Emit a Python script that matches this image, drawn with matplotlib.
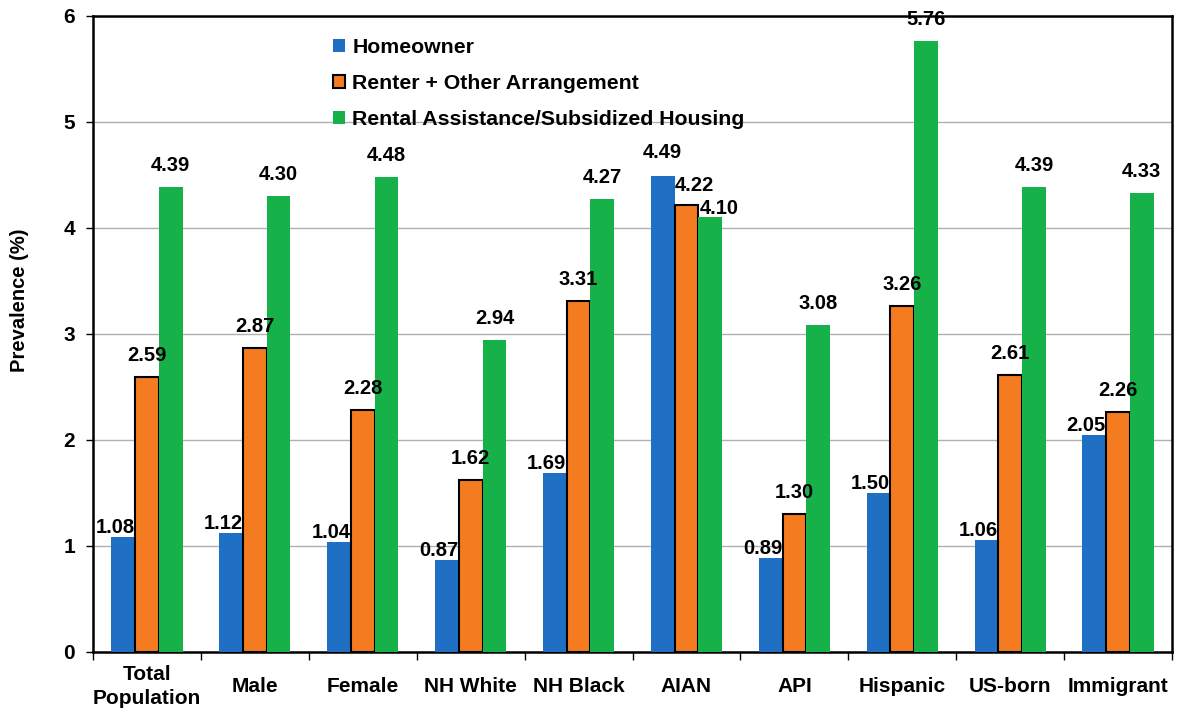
import numpy as np
import matplotlib.pyplot as plt

# groups and values
groups = ["Total\nPopulation", "Male", "Female", "NH White", "NH Black",
          "AIAN", "API", "Hispanic", "US-born", "Immigrant"]
homeowner = [1.08, 1.12, 1.04, 0.87, 1.69, 4.49, 0.89, 1.50, 1.06, 2.05]
renter = [2.59, 2.87, 2.28, 1.62, 3.31, 4.22, 1.30, 3.26, 2.61, 2.26]
assisted = [4.39, 4.30, 4.48, 2.94, 4.27, 4.10, 3.08, 5.76, 4.39, 4.33]
series_names = ["Homeowner", "Renter + Other Arrangement",
                "Rental Assistance/Subsidized Housing"]

plt.rcParams['font.family'] = ['Liberation Sans', 'DejaVu Sans']
plt.rcParams['font.weight'] = 'bold'

fig = plt.figure(figsize=(11.77, 7.13), dpi=100)
ax = fig.add_axes([0.079, 0.0856, 0.9168, 0.892])

x = np.arange(len(groups))
w = 0.22
colors = ['#1f6fc4', '#f47b20', '#17b14a']
edges = ['none', 'black', 'none']
all_vals = [homeowner, renter, assisted]

# label offsets in pixels (dx, dy) per series, a few moved by hand in the original
base_off = [(-8, 0), (0, 12), (0, 12)]
special = {(5, 0): (0, 14), (5, 1): (8, 10), (5, 2): (9, -1)}

for s, vals in enumerate(all_vals):
    pos = x + (s - 1) * w
    ax.bar(pos, vals, width=w, color=colors[s], edgecolor=edges[s],
           linewidth=1.5 if s == 1 else 0, label=series_names[s], zorder=3)
    for i, v in enumerate(vals):
        dx, dy = special.get((i, s), base_off[s])
        ax.annotate(f"{v:.2f}", (pos[i], v), xytext=(dx, dy),
                    textcoords='offset pixels', ha='center', va='bottom',
                    fontsize=14.5, fontweight='bold', zorder=4)

ax.set_ylim(0, 6)
ax.set_xlim(-0.5, len(groups) - 0.5)
ax.set_yticks(range(7))
ax.yaxis.grid(True, color='#b0b0b0', linewidth=1, zorder=0)
ax.set_ylabel("Prevalence (%)", fontsize=14.5, fontweight='bold')
ax.yaxis.set_label_coords(-0.059, 0.553)

ax.set_xticks(x)
ax.set_xticklabels(groups, fontsize=15, fontweight='bold', linespacing=1.35)
ax.set_xticks(np.arange(len(groups) + 1) - 0.5, minor=True)
ax.tick_params(axis='x', which='major', length=0, pad=25)
ax.tick_params(axis='x', which='minor', length=6, width=1, direction='out')
ax.tick_params(axis='y', labelsize=15, length=5, width=1, pad=8)
plt.setp(ax.get_xticklabels(), va='center')
plt.setp(ax.get_yticklabels(), fontweight='bold')

for sp in ax.spines.values():
    sp.set_linewidth(1.8)
    sp.set_color('black')

leg = ax.legend(loc='upper left', bbox_to_anchor=(0.205, 0.995), frameon=False,
                fontsize=15.3, handlelength=0.55, handleheight=0.55,
                handletextpad=0.35, labelspacing=0.8)

fig.savefig("out.png", dpi=100)
